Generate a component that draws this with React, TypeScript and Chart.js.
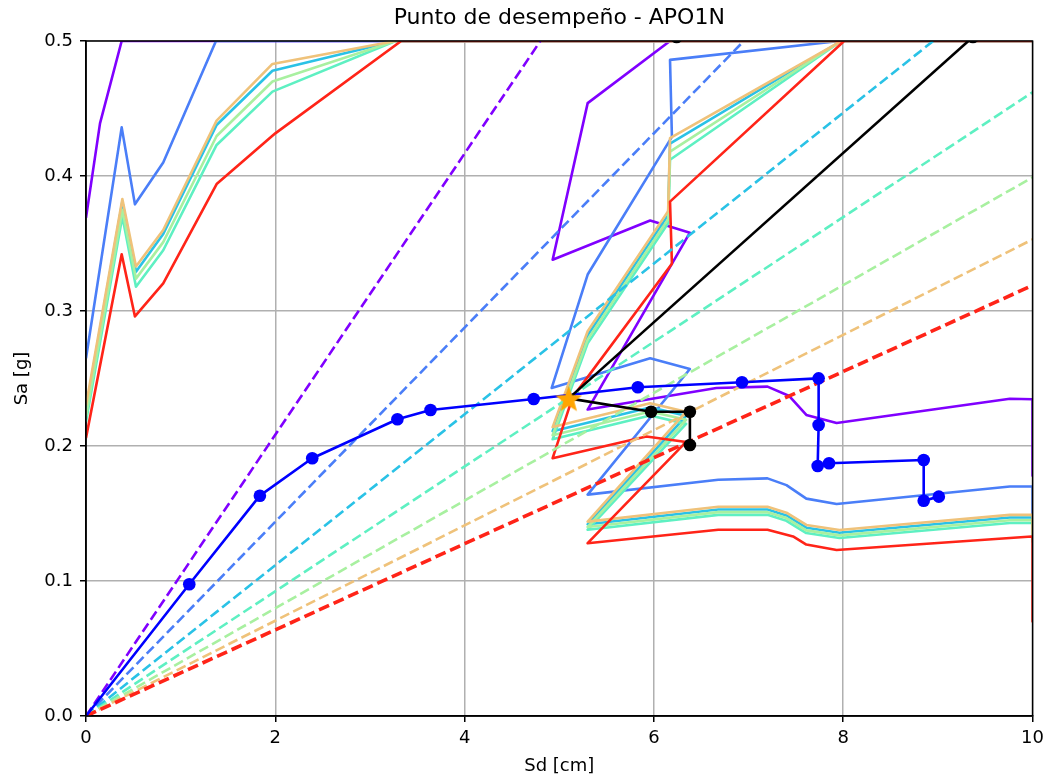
import { useEffect, useRef } from "react";
import { Chart, registerables } from "chart.js";

Chart.register(...registerables);

const FONT = "'DejaVu Sans', 'Liberation Sans', sans-serif";

// Axis ticks
const X_TICKS = [0, 2, 4, 6, 8, 10];
const Y_TICKS = [0, 0.1, 0.2, 0.3, 0.4, 0.5];
const X_TICK_LABELS = ["0", "2", "4", "6", "8", "10"];
const Y_TICK_LABELS = ["0.0", "0.1", "0.2", "0.3", "0.4", "0.5"];

// Reduced demand spectra (ADRS), Sd [cm] vs Sa [g], clipped to the plotted window
const specPurpleSd = [0, 0.148, 0.377, 10, 6.17, 5.3, 4.93, 5.96, 6.38, 5.3, 6.66, 7.2, 7.43, 7.61, 7.93, 9.76, 10, 10];
const specPurpleSa = [0.369, 0.439, 0.5, 0.5, 0.5, 0.454, 0.338, 0.367, 0.358, 0.227, 0.243, 0.244, 0.237, 0.223, 0.217, 0.235, 0.2346, 0.178];

const specBlueSd = [0, 0.377, 0.517, 0.816, 1.373, 10, 7.96, 6.17, 6.19, 5.3, 4.92, 5.96, 6.38, 5.3, 6.68, 7.2, 7.4, 7.61, 7.93, 9.76, 10, 10];
const specBlueSa = [0.265, 0.436, 0.379, 0.41, 0.5, 0.5, 0.5, 0.486, 0.429, 0.327, 0.243, 0.265, 0.257, 0.164, 0.175, 0.176, 0.171, 0.161, 0.157, 0.17, 0.17, 0.145];

const specMidSd = [0, 0.384, 0.528, 0.816, 1.38, 1.97, 3.27, 10, 7.98, 6.17, 6.15, 5.3, 4.93, 5.96, 6.34, 5.3, 6.68, 7.2, 7.4, 7.61, 7.96, 9.76, 10, 10];
const specCyanSa = [0.227, 0.381, 0.329, 0.357, 0.4378, 0.478, 0.5, 0.5, 0.5, 0.424, 0.371, 0.282, 0.211, 0.2286, 0.2224, 0.142, 0.153, 0.153, 0.1486, 0.1395, 0.1358, 0.147, 0.147, 0.133];
const specAquaSa = [0.218, 0.37, 0.318, 0.345, 0.423, 0.4625, 0.5, 0.5, 0.5, 0.412, 0.365, 0.276, 0.205, 0.2226, 0.2164, 0.138, 0.149, 0.149, 0.1446, 0.1355, 0.1318, 0.143, 0.143, 0.129];
const specGreenSa = [0.222, 0.375, 0.324, 0.351, 0.4296, 0.47, 0.5, 0.5, 0.5, 0.418, 0.368, 0.279, 0.208, 0.2256, 0.2194, 0.14, 0.151, 0.151, 0.1466, 0.1375, 0.1338, 0.145, 0.145, 0.131];
const specTanSa = [0.23, 0.383, 0.333, 0.36, 0.441, 0.483, 0.5, 0.5, 0.5, 0.428, 0.374, 0.285, 0.214, 0.2316, 0.2254, 0.144, 0.155, 0.155, 0.1506, 0.1415, 0.1378, 0.149, 0.149, 0.135];

const specRedSd = [0, 0.377, 0.517, 0.816, 1.38, 2.0, 3.33, 10, 8.01, 6.17, 6.19, 5.14, 4.93, 5.92, 6.34, 5.3, 6.68, 7.2, 7.47, 7.61, 7.93, 9.99, 10, 10];
const specRedSa = [0.206, 0.342, 0.296, 0.3205, 0.394, 0.4316, 0.5, 0.5, 0.5, 0.381, 0.335, 0.236, 0.191, 0.207, 0.203, 0.128, 0.138, 0.138, 0.133, 0.127, 0.123, 0.133, 0.133, 0.07];

// Radial period lines from the origin (end point of each one)
const radialEndSd = [4.8, 6.95, 8.95, 10, 10, 10, 10];
const radialEndSa = [0.5, 0.5, 0.5, 0.462, 0.399, 0.353, 0.319];

// Capacity curve
const capacitySd = [0, 1.091, 1.837, 2.39, 3.29, 3.64, 4.73, 5.83, 6.93, 7.74, 7.74, 7.73, 7.85, 8.85, 8.85, 9.01];
const capacitySa = [0, 0.0976, 0.1632, 0.1909, 0.2198, 0.2267, 0.2348, 0.2435, 0.2472, 0.2501, 0.2156, 0.1852, 0.1872, 0.1896, 0.1595, 0.1625];

// Iteration path to the performance point
const iterPathSd = [5.1, 5.97, 6.38, 6.38];
const iterPathSa = [0.2353, 0.2254, 0.2254, 0.2007];
const iterLineSd = [5.1, 9.37];
const iterLineSa = [0.2353, 0.503];
const iterDotSd = [6.24];
const iterDotSa = [0.503];

// Performance point
const perfSd = [5.1];
const perfSa = [0.2353];

const SPECTRUM_COLORS = ["#8000ff", "#4a7ef8", "#2ac2e6", "#5ef0c2", "#a8f0a0", "#efc27a", "#ff2418"];

const pts = (xs: number[], ys: number[]) => xs.map((x, i) => ({ x, y: ys[i] }));

function makeStar(size: number, color: string) {
  const c = document.createElement("canvas");
  c.width = size;
  c.height = size;
  const ctx = c.getContext("2d")!;
  const R = size / 2 - 1;
  const r = R * 0.42;
  ctx.beginPath();
  for (let i = 0; i < 10; i++) {
    const rad = i % 2 === 0 ? R : r;
    const a = -Math.PI / 2 + (i * Math.PI) / 5;
    const px = size / 2 + rad * Math.cos(a);
    const py = size / 2 + 1.5 + rad * Math.sin(a);
    if (i === 0) ctx.moveTo(px, py);
    else ctx.lineTo(px, py);
  }
  ctx.closePath();
  ctx.fillStyle = color;
  ctx.fill();
  return c;
}

// Four black spines drawn over the data
const framePlugin = {
  id: "frame",
  afterDatasetsDraw(chart: any) {
    const { ctx, chartArea: a } = chart;
    ctx.save();
    ctx.strokeStyle = "#000";
    ctx.lineWidth = 1.5;
    ctx.strokeRect(a.left, a.top, a.right - a.left, a.bottom - a.top);
    ctx.restore();
  },
};

export default function App() {
  const ref = useRef<HTMLCanvasElement | null>(null);

  useEffect(() => {
    document.body.style.margin = "0";
    const canvas = ref.current;
    if (!canvas) return;

    const spectra = [
      pts(specPurpleSd, specPurpleSa),
      pts(specBlueSd, specBlueSa),
      pts(specMidSd, specCyanSa),
      pts(specMidSd, specAquaSa),
      pts(specMidSd, specGreenSa),
      pts(specMidSd, specTanSa),
      pts(specRedSd, specRedSa),
    ];

    const datasets: any[] = [];
    spectra.forEach((data, i) => {
      datasets.push({
        data,
        borderColor: SPECTRUM_COLORS[i],
        borderWidth: 2.6,
        pointRadius: 0,
        showLine: true,
        borderJoinStyle: "round",
        clip: 0,
      });
    });
    radialEndSd.forEach((sd, i) => {
      const isLast = i === radialEndSd.length - 1;
      datasets.push({
        data: pts([0, sd], [0, radialEndSa[i]]),
        borderColor: SPECTRUM_COLORS[i],
        borderWidth: isLast ? 3.6 : 2.6,
        borderDash: isLast ? [11, 5] : [10, 4.5],
        pointRadius: 0,
        showLine: true,
        clip: 0,
      });
    });
    datasets.push({
      data: pts(capacitySd, capacitySa),
      borderColor: "#0000ff",
      backgroundColor: "#0000ff",
      borderWidth: 2.6,
      pointRadius: capacitySd.map((_, i) => (i === 0 ? 0 : 6.3)),
      pointBackgroundColor: "#0000ff",
      pointBorderColor: "#0000ff",
      pointBorderWidth: 0,
      showLine: true,
      borderJoinStyle: "round",
      clip: 0,
    });
    datasets.push({
      data: pts(iterPathSd, iterPathSa),
      borderColor: "#000",
      borderWidth: 2.6,
      pointRadius: iterPathSd.map((_, i) => (i === 0 ? 0 : 6.3)),
      pointBackgroundColor: "#000",
      pointBorderColor: "#000",
      pointBorderWidth: 0,
      showLine: true,
      clip: 0,
    });
    datasets.push({
      data: pts(iterLineSd, iterLineSa),
      borderColor: "#000",
      borderWidth: 2.6,
      pointRadius: [0, 6.3],
      pointBackgroundColor: "#000",
      pointBorderColor: "#000",
      pointBorderWidth: 0,
      showLine: true,
      clip: 0,
    });
    datasets.push({
      data: pts(iterDotSd, iterDotSa),
      pointRadius: 6.3,
      pointBackgroundColor: "#000",
      pointBorderColor: "#000",
      pointBorderWidth: 0,
      showLine: false,
      clip: 0,
    });
    datasets.push({
      data: pts(perfSd, perfSa),
      pointStyle: makeStar(30, "#ffa500"),
      pointRadius: 15,
      showLine: false,
      clip: 0,
    });
    datasets.forEach((d, i) => (d.order = -i));

    const tickFont = { family: FONT, size: 18 };
    const chart = new Chart(canvas, {
      type: "scatter",
      data: { datasets },
      plugins: [framePlugin],
      options: {
        animation: false,
        responsive: false,
        devicePixelRatio: 1,
        events: [],
        layout: { padding: { left: 0, right: 17, top: 0, bottom: 0 } },
        plugins: {
          legend: { display: false },
          tooltip: { enabled: false },
          title: {
            display: true,
            fullSize: false,
            text: "Punto de desempeño - APO1N",
            color: "#000",
            font: { family: FONT, size: 22, weight: "normal" },
            padding: { top: 5, bottom: 9.6 },
          },
        },
        scales: {
          x: {
            type: "linear",
            min: 0,
            max: 10,
            afterBuildTicks: (axis: any) => {
              axis.ticks = X_TICKS.map((v) => ({ value: v }));
            },
            afterFit: (s: any) => {
              s.height = 62;
            },
            ticks: {
              color: "#000",
              font: tickFont,
              padding: 6,
              maxRotation: 0,
              callback: (_v: any, i: number) => X_TICK_LABELS[i],
            },
            grid: { color: "#b0b0b0", lineWidth: 1.5, tickColor: "#000", tickLength: 6, tickWidth: 1.5 },
            border: { color: "#000", width: 1.5 },
            title: {
              display: true,
              text: "Sd [cm]",
              color: "#000",
              font: tickFont,
              padding: { top: 0, bottom: 1 },
            },
          },
          y: {
            type: "linear",
            min: 0,
            max: 0.5,
            afterBuildTicks: (axis: any) => {
              axis.ticks = Y_TICKS.map((v) => ({ value: v }));
            },
            afterFit: (s: any) => {
              s.width = 86;
            },
            ticks: {
              color: "#000",
              font: tickFont,
              padding: 7,
              callback: (_v: any, i: number) => Y_TICK_LABELS[i],
            },
            grid: { color: "#b0b0b0", lineWidth: 1.5, tickColor: "#000", tickLength: 6, tickWidth: 1.5 },
            border: { color: "#000", width: 1.5 },
            title: {
              display: true,
              text: "Sa [g]",
              color: "#000",
              font: tickFont,
              padding: { top: 12, bottom: 0 },
            },
          },
        },
      },
    } as any);

    return () => chart.destroy();
  }, []);

  return (
    <div style={{ width: 1050, height: 778 }}>
      <canvas ref={ref} width={1050} height={778} style={{ display: "block" }} />
    </div>
  );
}
